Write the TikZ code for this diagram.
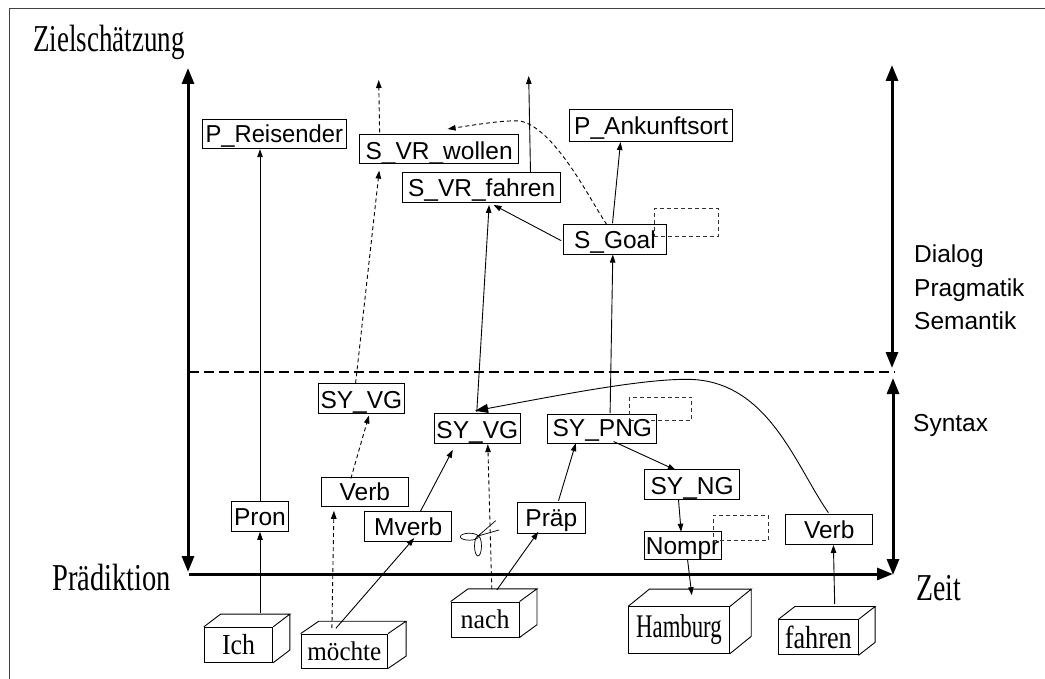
\documentclass[tikz,border=0pt]{standalone}
\usepackage{graphicx}
\usepackage{fontspec}
\setmainfont{Liberation Serif}
\setsansfont{Liberation Sans}
\usepackage{tikz}
\usetikzlibrary{arrows.meta,positioning}
\newcommand{\cubeword}[3]{\fontsize{#1}{#1}\selectfont\scalebox{#2}[1]{#3}}
\newcommand{\cubeside}[3]{\draw[cubeline] (#1.north west)--++(#2,-#3)--([shift={(#2,-#3)}]#1.north east)--(#1.north east) ([shift={(#2,-#3)}]#1.north east)--([shift={(#2,-#3)}]#1.south east)--(#1.south east);}

\begin{document}
\begin{tikzpicture}[x=1pt,y=-1pt,>={Triangle[length=8pt,width=5.5pt]}]
\tikzstyle{catnode}=[draw,line width=.9pt,inner sep=0pt,text height=19pt,text depth=1pt,font=\sffamily\fontsize{24.5}{28}\selectfont]
\tikzstyle{lowtext}=[text height=20.5pt,text depth=0pt]
\tikzstyle{cubenode}=[draw,line width=.9pt,inner sep=0pt]
\tikzstyle{cubeline}=[line width=.9pt]
\tikzstyle{slotnode}=[draw,black!80,line width=.9pt,dash pattern=on 4pt off 3pt,inner sep=0pt]
\tikzstyle{edge}=[->,line width=.9pt]
\tikzstyle{dashedge}=[->,line width=.9pt,dash pattern=on 4pt off 3pt]
\tikzstyle{axis}=[line width=3pt,>={Triangle[length=16pt,width=12pt]}]
\tikzstyle{biglabel}=[anchor=base west,inner sep=0pt,font=\fontsize{38}{40}\selectfont]
\tikzstyle{sidelabel}=[anchor=base west,inner sep=0pt,font=\sffamily\fontsize{24.5}{28}\selectfont]

\useasboundingbox (0,0) rectangle (1045,679);
\draw[black!75,line width=1pt] (9,679)--(9,9)--(1045,9);

\coordinate (ztop) at (188,68);
\coordinate (zbot) at (188,572);
\coordinate (torigin) at (189,574);
\coordinate (tend) at (893,574);
\coordinate (semtop) at (892,65);
\coordinate (sembot) at (892,368);
\coordinate (syntop) at (893,378);
\coordinate (synbot) at (893,575);
\coordinate (splitl) at (189,372);
\coordinate (splitr) at (895,372);
\coordinate (wollenup) at (378.7,80);
\coordinate (fahrenup) at (528.7,76);

\node[biglabel] (zielsch) at (33,51.7) {\scalebox{.71}[1]{Zielschätzung}};
\node[biglabel] (praedik) at (52,590) {\scalebox{.75}[1]{Prädiktion}};
\node[biglabel] (zeit) at (916,600.7) {\scalebox{.73}[1]{Zeit}};
\node[sidelabel] (dialog) at (914,263) {Dialog};
\node[sidelabel] (pragmatik) at (914,296.5) {Pragmatik};
\node[sidelabel] (semantik) at (914,330) {Semantik};
\node[sidelabel] (syntax) at (913,431.7) {Syntax};

\node[cubenode,minimum width=68.4pt,minimum height=35pt] (ich) at (238.5,644.8) {\cubeword{29}{.89}{Ich}};
\node[catnode,minimum width=57.4pt,minimum height=29.6pt,above=95pt of ich,xshift=21.5pt] (pron) {Pron};
\node[catnode,minimum width=143.5pt,minimum height=29.5pt,above=352.2pt of pron,xshift=14.25pt] (preisender) {\scalebox{.97}[1]{P\_Reisender}};

\node[cubenode,minimum width=86.4pt,minimum height=34pt,right=27.6pt of ich,yshift=-6.2pt] (moechte) {\cubeword{27}{.93}{möchte}};
\node[catnode,minimum width=87.4pt,minimum height=29.7pt,above=126.3pt of moechte,xshift=20.5pt] (verba) {Verb};
\node[catnode,minimum width=87.3pt,minimum height=29.6pt,above=91.7pt of moechte,xshift=63.85pt] (mverb) {Mverb};
\node[catnode,lowtext,minimum width=86.4pt,minimum height=29.7pt,above=63pt of verba,xshift=-3.5pt] (syvga) {SY\_VG};
\node[catnode,lowtext,minimum width=158.5pt,minimum height=29.5pt,above=218.8pt of syvga,xshift=77.75pt] (swollen) {S\_VR\_wollen};

\node[cubenode,minimum width=68pt,minimum height=35pt,right=62.6pt of moechte,yshift=31.5pt] (nach) {\cubeword{27}{.96}{nach}};
\node[catnode,lowtext,minimum width=86.4pt,minimum height=29.6pt,above=157.7pt of nach,xshift=-7.8pt] (syvgb) {SY\_VG};
\node[catnode,minimum width=157.7pt,minimum height=29.5pt,above=210.7pt of syvgb,xshift=4.35pt] (sfahren) {S\_VR\_fahren};
\node[catnode,minimum width=68.4pt,minimum height=31.3pt,above=67.7pt of nach,xshift=66.2pt] (praep) {Präp};
\node[catnode,text height=17pt,text depth=3pt,minimum width=109pt,minimum height=29.4pt,above=57.3pt of praep,xshift=51pt] (sypng) {SY\_PNG};
\node[catnode,minimum width=102.3pt,minimum height=30pt,above=159.3pt of sypng,xshift=12.65pt] (sgoal) {S\_Goal};
\node[catnode,minimum width=162.7pt,minimum height=32.5pt,above=81.5pt of sgoal,xshift=36.2pt] (pankunft) {P\_Ankunftsort};
\node[catnode,lowtext,minimum width=94.7pt,minimum height=29.6pt,below=25pt of sypng,xshift=89.85pt] (syng) {SY\_NG};
\node[catnode,minimum width=77pt,minimum height=27.6pt,below=31.4pt of syng,xshift=-9.55pt] (nompr) {Nompr};

\node[cubenode,minimum width=101pt,minimum height=46.3pt,below=46.7pt of nompr,xshift=-3.6pt] (hamburg) {\cubeword{33}{.69}{Hamburg}};
\node[cubenode,minimum width=79.3pt,minimum height=35pt,right=48.3pt of hamburg,yshift=-7.35pt] (fahren) {\cubeword{32}{.82}{fahren}};
\node[catnode,minimum width=87pt,minimum height=29.6pt,above=74.7pt of fahren,xshift=10.85pt] (verbb) {Verb};

\node[slotnode,minimum width=64.3pt,minimum height=28pt,right=-12.6pt of sgoal,yshift=17pt] (goalslot) {};
\node[slotnode,minimum width=62pt,minimum height=23pt,right=-28pt of sypng,yshift=20.5pt] (pngslot) {};
\node[slotnode,minimum width=55.4pt,minimum height=25.3pt,right=-9pt of nompr,yshift=17.85pt] (nomprslot) {};

\cubeside{ich}{16.7}{12.7}
\cubeside{moechte}{18}{12.3}
\cubeside{nach}{17.4}{12.7}
\cubeside{hamburg}{21.3}{17.3}
\cubeside{fahren}{16.7}{13}

\draw[axis,<->] (ztop)--(zbot);
\draw[axis,->] (torigin)--(tend);
\draw[axis,<->] (semtop)--(sembot);
\draw[axis,<->] (syntop)--(synbot);
\draw[line width=2.2pt,dash pattern=on 10pt off 5pt] (splitl)--(splitr);

\draw[edge] ([shift={(21.5,-31.8)}]ich.center)--(pron.south);
\draw[edge] (pron.north)--([shift={(-14.25,15.25)}]preisender.center);
\draw[dashedge] ([shift={(-12.5,-23)}]moechte.center)--([shift={(-31,18.85)}]verba.center);
\draw[dashedge] ([shift={(-14,-13.55)}]verba.center)--([shift={(7.5,17.15)}]syvga.center);
\draw[dashedge] ([shift={(-5.8,-15.15)}]syvga.center)--([shift={(-59.95,21.55)}]swollen.center);
\draw[dashedge] ([shift={(-59.55,-16.75)}]swollen.center)--(wollenup);
\draw[edge] ([shift={(-8.5,-22.7)}]moechte.center)--([shift={(5.95,11.5)}]mverb.center);
\draw[edge] ([shift={(11.95,-14.8)}]mverb.center)--([shift={(-24.5,21.2)}]syvgb.center);
\draw[dashedge] ([shift={(6.7,-30.2)}]nach.center)--([shift={(10.5,15.5)}]syvgb.center);
\draw[edge] ([shift={(-.5,-16.8)}]syvgb.center)--([shift={(7.45,17.45)}]sfahren.center);
\draw[edge] ([shift={(48.85,-14.75)}]sfahren.center)--(fahrenup);
\draw[edge] ([shift={(-53.85,1.3)}]sgoal.center)--([shift={(11.85,17.45)}]sfahren.center);
\draw[edge] ([shift={(-2.45,-16)}]sgoal.center)--([shift={(-30.65,16.45)}]pankunft.center);
\draw[dashedge] ([shift={(-8.15,-14.7)}]sgoal.center) .. controls (590,200) and (555,128) .. (520,121) .. controls (505,120) and (480,124) .. ([shift={(8.45,-20.05)}]swollen.center);
\draw[edge] ([shift={(11.7,-29.5)}]nach.center)--([shift={(-13,14.05)}]praep.center);
\draw[edge] ([shift={(7.2,-16.95)}]praep.center)--([shift={(-26.5,14)}]sypng.center);
\draw[edge] ([shift={(7.8,-16)}]sypng.center)--([shift={(-2.15,15.3)}]sgoal.center);
\draw[edge] ([shift={(11.2,12.3)}]sypng.center)--([shift={(-16.35,-14.5)}]syng.center);
\draw[edge] ([shift={(-13.65,15)}]syng.center)--([shift={(-1.5,-13.8)}]nompr.center);
\draw[edge] ([shift={(4.9,13.5)}]nompr.center)--([shift={(12.8,-34.85)}]hamburg.center);
\draw[edge] ([shift={(16.35,-33.2)}]fahren.center)--([shift={(4.2,15.5)}]verbb.center);
\draw[line width=.9pt,-{Triangle[length=13pt,width=9pt]}] ([shift={(-.8,-16.8)}]verbb.center) .. controls (795,465) and (768,379.3) .. (686.7,379.3) .. controls (640,379.3) and (560,395) .. ([shift={(-2.2,-17.8)}]syvgb.center);

\draw[line width=.7pt] (469.3,536.7) ellipse (9 and 3.5);
\draw[line width=.7pt] (478,546) ellipse (3.5 and 10);
\draw[line width=.7pt] (478,536)--(495.7,520.7) (478,536)--(499,530);
\end{tikzpicture}
\end{document}
